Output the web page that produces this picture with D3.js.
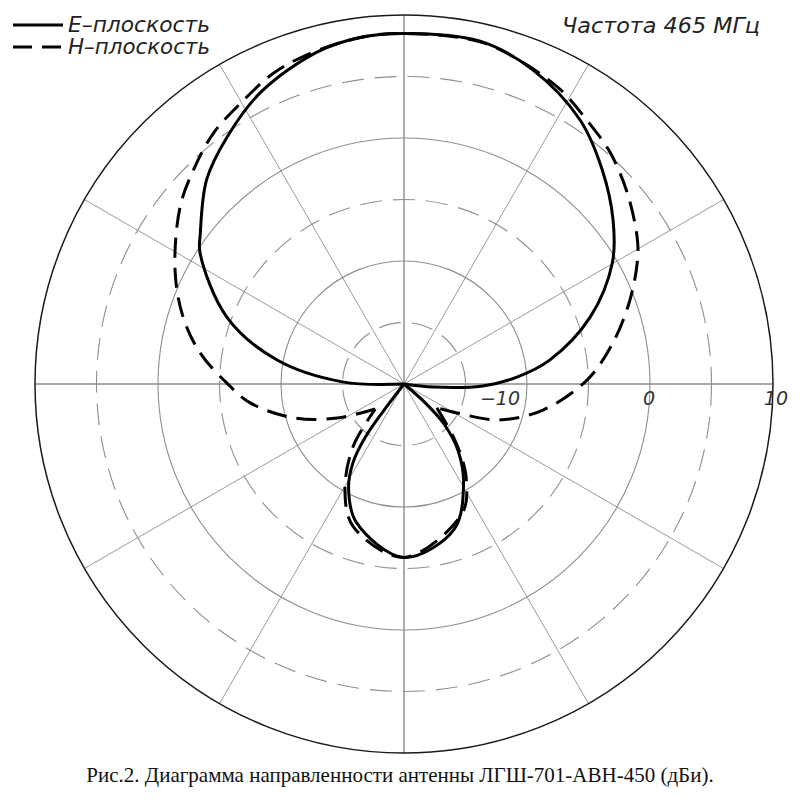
<!DOCTYPE html>
<html>
<head>
<meta charset="utf-8">
<script src="https://cdn.jsdelivr.net/npm/d3@7"></script>
<style>
  html, body { margin: 0; padding: 0; background: #fff; }
  svg { display: block; }
</style>
</head>
<body>
<svg id="chart" width="800" height="800"></svg>
<script>
// ---------- data ----------
const legendLabels = ["E\u2013плоскость", "H\u2013плоскость"];
const titleText = "Частота  465  МГц";
const captionText = "Рис.2. Диаграмма направленности антенны ЛГШ-701-АВН-450 (дБи).";

const ringValues = [-15, -10, -5, 0, 5, 10];
const tickValues = [-10, 0, 10];
const tickLabels = ["\u221210", "0", "10"];
const spokeAngles = [0, 30, 60, 90, 120, 150, 180, 210, 240, 270, 300, 330];

// E-plane (solid): main lobe, back lobe  (angle deg clockwise from top, gain dBi)
const eMainAngles = [-95, -88, -79.3, -69.3, -57.3, -53.5, -44, -35.6, -26.3, -14.7, -7.2, 0, 12.5, 22.3, 33.7, 42.9, 51.9, 59.8, 70.2, 80.7, 86.5, 91.4, 96, 100];
const eMainDb     = [-20, -15, -9.5, -4.6, -0.3, 0.6, 3.1, 4.7, 6.4, 7.9, 8.4, 8.5, 8.55, 7.6, 5.8, 3.7, 1.6, -0.4, -3.9, -8.0, -10.8, -13.6, -17.6, -20];
const eBackAngles = [129, 131.5, 135, 141, 149, 161, 180, 199, 208, 213, 216, 217.3, 217];
const eBackDb     = [-20, -17.8, -15.4, -13, -10.6, -7.5, -5.9, -8.1, -10.4, -12.4, -14.6, -17.5, -20];

// H-plane (dashed): main lobe, back lobe
const hMainAngles = [-131, -117, -107, -97, -89.7, -81.4, -73, -63.5, -51.7, -44.6, -37.3, -30.3, -22.8, -16.4, -7, 0, 12.5, 20, 28, 34.7, 41.7, 49.4, 57.8, 62, 69.6, 78.9, 88.7, 100.6, 110.6, 118.7, 126];
const hMainDb     = [-16.9, -13.9, -10.6, -7.4, -5.6, -3.25, -1.2, 0.8, 3.2, 4.4, 5.6, 6.4, 7.4, 7.9, 8.4, 8.5, 8.5, 7.9, 7.1, 6.1, 5.2, 3.9, 2.4, 1.5, -0.4, -2.7, -5.1, -8.5, -11.7, -15.1, -16.7];
const hBackAngles = [126, 137, 143, 147, 155.6, 180, 199.6, 209, 219, 229];
const hBackDb     = [-16.7, -14.1, -12, -10.7, -8.5, -5.9, -7.7, -10.1, -13.4, -16.9];

// ---------- drawing ----------
const svg = d3.select("#chart");
const cx = 404, cy = 384, R = 369;
const rScale = d3.scaleLinear().domain([-20, 10]).range([0, R]).clamp(true);
const rad = d => d * Math.PI / 180;

const g = svg.append("g").attr("transform", `translate(${cx},${cy})`);

// spokes
g.selectAll("line.spoke").data(spokeAngles).join("line")
  .attr("class", "spoke")
  .attr("x1", 0).attr("y1", 0)
  .attr("x2", a => R * Math.sin(rad(a)))
  .attr("y2", a => -R * Math.cos(rad(a)))
  .attr("stroke", a => a % 90 === 0 ? "#8c8c8c" : "#9a9a9a")
  .attr("stroke-width", a => a % 90 === 0 ? 1.4 : 1);

// rings
g.selectAll("circle.ring").data(ringValues).join("circle")
  .attr("class", "ring")
  .attr("r", v => rScale(v))
  .attr("fill", "none")
  .attr("stroke", (v, i) => i === ringValues.length - 1 ? "#1a1a1a" : "#8f8f8f")
  .attr("stroke-width", (v, i) => i === ringValues.length - 1 ? 1.5 : 1.1)
  .attr("stroke-dasharray", v => (v % 10 !== 0) ? "22,11" : null);

// tick labels
const labelShift = [-27, -1, 3];
g.selectAll("text.tick").data(tickValues).join("text")
  .attr("class", "tick")
  .attr("x", (v, i) => rScale(v) + labelShift[i])
  .attr("y", 21)
  .attr("text-anchor", "middle")
  .attr("font-family", "DejaVu Sans")
  .attr("font-style", "italic")
  .attr("font-size", 19)
  .attr("fill", "#333")
  .text((v, i) => tickLabels[i]);

// pattern curves
const radial = d3.lineRadial()
  .angle(d => rad(d[0]))
  .radius(d => rScale(d[1]))
  .curve(d3.curveCatmullRom.alpha(0.5));

const zip = (a, b) => a.map((v, i) => [v, b[i]]);
const solidSegs = [zip(eMainAngles, eMainDb), zip(eBackAngles, eBackDb)];
const dashSegs = [zip(hMainAngles, hMainDb), zip(hBackAngles, hBackDb)];

g.selectAll("path.e").data(solidSegs).join("path")
  .attr("class", "e")
  .attr("d", radial)
  .attr("fill", "none")
  .attr("stroke", "#000")
  .attr("stroke-width", 3)
  .attr("stroke-linejoin", "round");

g.selectAll("path.h").data(dashSegs).join("path")
  .attr("class", "h")
  .attr("d", radial)
  .attr("fill", "none")
  .attr("stroke", "#000")
  .attr("stroke-width", 3)
  .attr("stroke-dasharray", "20,10");

// legend
const leg = svg.append("g");
legendLabels.forEach((lab, i) => {
  const y = 25 + i * 22;
  leg.append("line")
    .attr("x1", 13).attr("x2", 63).attr("y1", y).attr("y2", y)
    .attr("stroke", "#000").attr("stroke-width", 3)
    .attr("stroke-dasharray", i === 1 ? "19,10" : null);
  leg.append("text")
    .attr("x", 68).attr("y", y + 7)
    .attr("font-family", "DejaVu Sans")
    .attr("font-style", "italic")
    .attr("font-size", 21)
    .attr("fill", "#222")
    .attr("textLength", 142)
    .attr("lengthAdjust", "spacingAndGlyphs")
    .text(lab);
});

// frequency title
svg.append("text")
  .attr("x", 562).attr("y", 33)
  .attr("font-family", "DejaVu Sans")
  .attr("font-style", "italic")
  .attr("font-size", 21)
  .attr("fill", "#222")
  .attr("textLength", 198)
  .attr("lengthAdjust", "spacingAndGlyphs")
  .text(titleText);

// caption
svg.append("text")
  .attr("x", 400).attr("y", 782)
  .attr("text-anchor", "middle")
  .attr("font-family", "Liberation Serif")
  .attr("font-size", 21)
  .attr("fill", "#111")
  .text(captionText);
</script>
</body>
</html>
